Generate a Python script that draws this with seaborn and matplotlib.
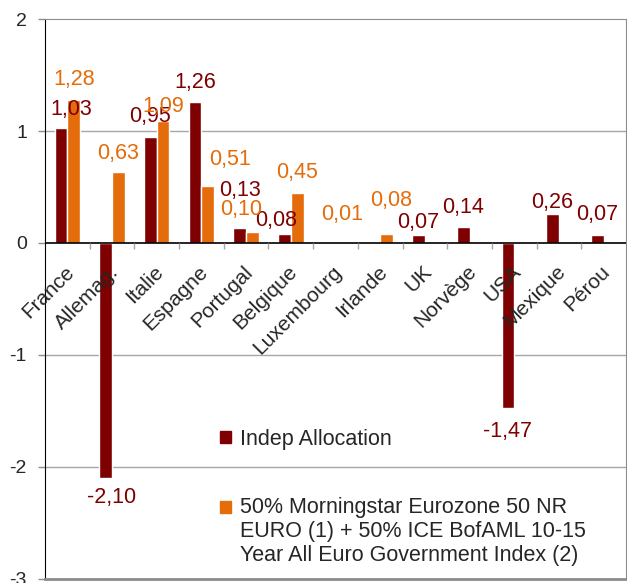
import matplotlib
matplotlib.use("Agg")
import matplotlib.pyplot as plt
import matplotlib.patches as mpatches
from matplotlib.legend_handler import HandlerPatch
import seaborn as sns
import pandas as pd
import numpy as np

categories = ["France", "Allemag.", "Italie", "Espagne", "Portugal", "Belgique",
              "Luxembourg", "Irlande", "UK", "Norvège", "USA", "Mexique", "Pérou"]
indep = [1.03, -2.10, 0.95, 1.26, 0.13, 0.08, np.nan, np.nan, 0.07, 0.14, -1.47, 0.26, 0.07]
bench = [1.28, 0.63, 1.09, 0.51, 0.10, 0.45, 0.01, 0.08, np.nan, np.nan, np.nan, np.nan, np.nan]
series = ["Indep Allocation",
          "50% Morningstar Eurozone 50 NR\nEURO (1) + 50% ICE BofAML 10-15\nYear All Euro Government Index (2)"]
colors = ["#7F0000", "#E46C0A"]

# label nudges in pixels (dx, distance from bar end), as placed in the original
indep_dx = [10, 6, 0, 0, 0, -8, 0, 0, 0, 0, 0, 0, 0]
indep_dy = [18, 19, 20, 19, 38, 14, 0, 0, 13, 20, 24, 11, 21]
bench_dx = [0, 0, 0, 22, -11, 0, 0, 5, 0, 0, 0, 0, 0]
bench_dy = [20, 19, 14, 26, 22, 20, 27, 34, 0, 0, 0, 0, 0]

df = pd.concat([
    pd.DataFrame({"pays": categories, "valeur": indep, "serie": series[0]}),
    pd.DataFrame({"pays": categories, "valeur": bench, "serie": series[1]}),
], ignore_index=True)

sns.set_style("white")
plt.rcParams["font.family"] = ["Liberation Sans", "DejaVu Sans"]

fig = plt.figure(figsize=(6.27, 5.83), dpi=100)
ax = fig.add_axes([0.0718, 0.0069, 0.9266, 0.9605])

sns.barplot(data=df, x="pays", y="valeur", hue="serie", order=categories,
            hue_order=series, palette=colors, width=0.57, saturation=1,
            errorbar=None, ax=ax, legend=False)

ax.set_ylim(-3, 2)
ax.set_xlim(-0.5, len(categories) - 0.5)
ax.set_yticks([-3, -2, -1, 0, 1, 2])
ax.set_yticklabels(["-3", "-2", "-1", "0", "1", "2"], fontsize=14)
ax.set_xticks([])
ax.set_xlabel("")
ax.set_ylabel("")
for y in [-2, -1, 1]:
    ax.axhline(y, color="#A6A6A6", lw=1, zorder=0)
ax.axhline(0, color="black", lw=1.2, zorder=3)
ax.vlines(np.arange(len(categories) - 1) + 0.5, -0.05, 0, color="#A6A6A6", lw=1, zorder=3)

ax.tick_params(axis="y", left=True, length=5, width=1, color="#8C8C8C", pad=8)
for side in ["top", "right", "bottom"]:
    ax.spines[side].set_color("#8C8C8C")
ax.spines["bottom"].set_linewidth(2)
ax.spines["left"].set_color("black")

# category labels sitting under the zero line
for i, name in enumerate(categories):
    ax.annotate(name, (i, 0), xytext=(-3, -19), textcoords="offset pixels",
                rotation=45, rotation_mode="anchor", ha="right", va="top",
                fontsize=15, zorder=4)

# value labels
nudges = [(indep_dx, indep_dy), (bench_dx, bench_dy)]
for cont, col, (dxs, dys) in zip(ax.containers, colors, nudges):
    for bar in cont:
        v = bar.get_height()
        if np.isnan(v):
            continue
        x = bar.get_x() + bar.get_width() / 2
        i = int(round(x))
        off = dys[i] if v >= 0 else -dys[i]
        ax.annotate(f"{v:.2f}".replace(".", ","), (x, v), xytext=(dxs[i], off),
                    textcoords="offset pixels", ha="center", va="center",
                    fontsize=15.5, color=col, zorder=5)


def top_square(legend, orig_handle, xdescent, ydescent, width, height, fontsize):
    # square aligned with the first line of a multi-line label
    lines = orig_handle.get_label().count("\n")
    return mpatches.Rectangle((-xdescent, -ydescent + lines * fontsize * 0.58),
                              width, height)


handles = [mpatches.Patch(color=c, label=s) for c, s in zip(colors, series)]
ax.legend(handles=handles, loc="upper left", bbox_to_anchor=(0.2866, 0.284),
          frameon=False, fontsize=15.5, handlelength=0.5, handleheight=0.5,
          handletextpad=0.4, labelspacing=2.2, borderaxespad=0,
          handler_map={mpatches.Patch: HandlerPatch(patch_func=top_square)})

fig.savefig("out.png", dpi=100)
